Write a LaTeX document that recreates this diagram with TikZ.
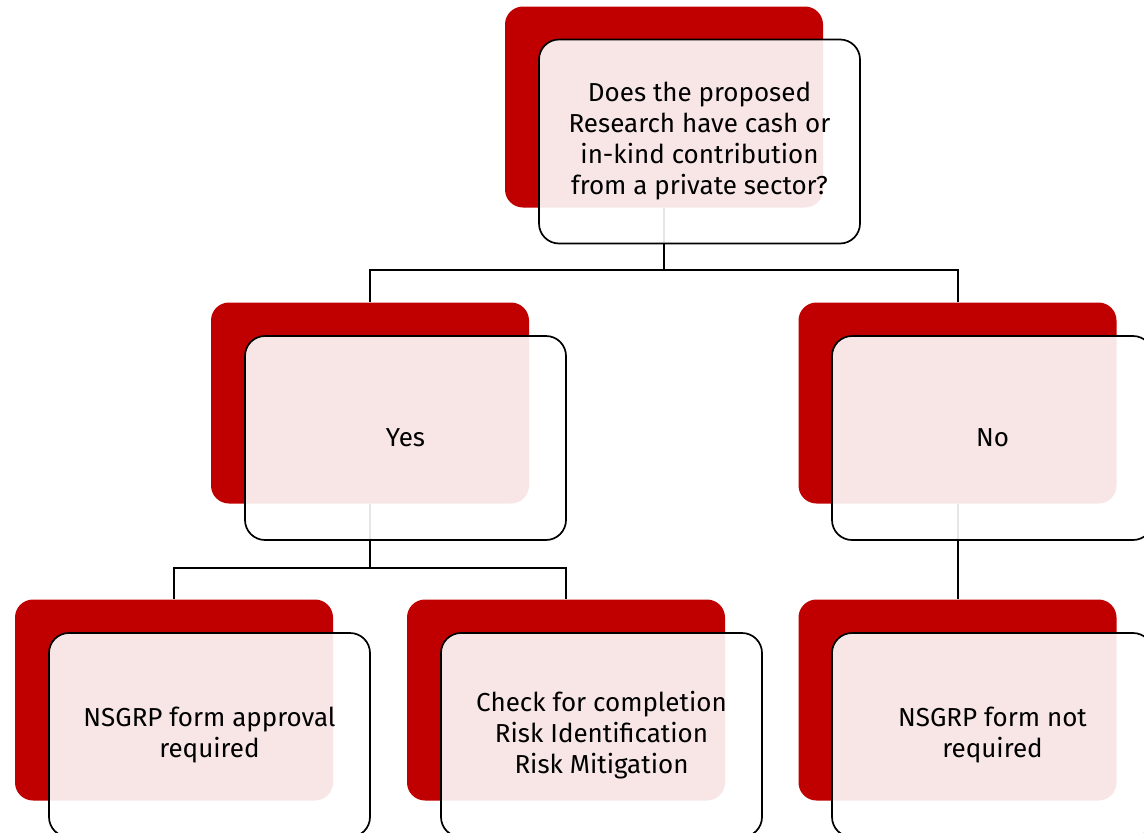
\documentclass[tikz,border=0pt]{standalone}
\usepackage{fontspec}
\setmainfont{Fira Sans}
\definecolor{boxred}{HTML}{C00000}
\begin{document}
\begin{tikzpicture}[x=1pt,y=-1pt,
  back/.style={rectangle,rounded corners=18pt,fill=boxred,draw=none,minimum width=318pt,minimum height=201pt,inner sep=0pt},
  front/.style={rectangle,rounded corners=20pt,draw=black,line width=1.7pt,fill=white,fill opacity=0.9,text opacity=1,minimum width=321pt,minimum height=204pt,inner sep=0pt,align=center,font=\fontsize{26}{31}\selectfont},
  conn/.style={draw=black,line width=2pt}]
\useasboundingbox (0,0) rectangle (1144,833);
% back boxes
\node[back] (r0) at (664,107) {};
\node[back] (r1) at (370,403) {};
\node[back] (r2) at (957.5,403) {};
\node[back] (r3) at (174,700) {};
\node[back] (r4) at (566,700) {};
\node[back] (r5) at (957.5,700) {};
% connectors
\coordinate (j0) at (664,270);
\coordinate (j1) at (370,568);
\draw[conn] (r0.south) -- (j0) -| (r1.north);
\draw[conn] (j0) -| (r2.north);
\draw[conn] (r1.south) -- (j1) -| (r3.north);
\draw[conn] (j1) -| (r4.north);
\draw[conn] (r2.south) -- (r5.north);
% front boxes
\node[front] (f0) at (699.5,141.5) {Does the proposed\\Research have cash or\\in-kind contribution\\from a private sector?};
\node[front] (f1) at (405.5,438) {Yes};
\node[front] (f2) at (992.5,438) {No};
\node[front] (f3) at (209.5,735) {NSGRP form approval\\required};
\node[front] (f4) at (601.5,735) {Check for completion\\Risk Identification\\Risk Mitigation};
\node[front] (f5) at (992.5,735) {NSGRP form not\\required};
\end{tikzpicture}
\end{document}
